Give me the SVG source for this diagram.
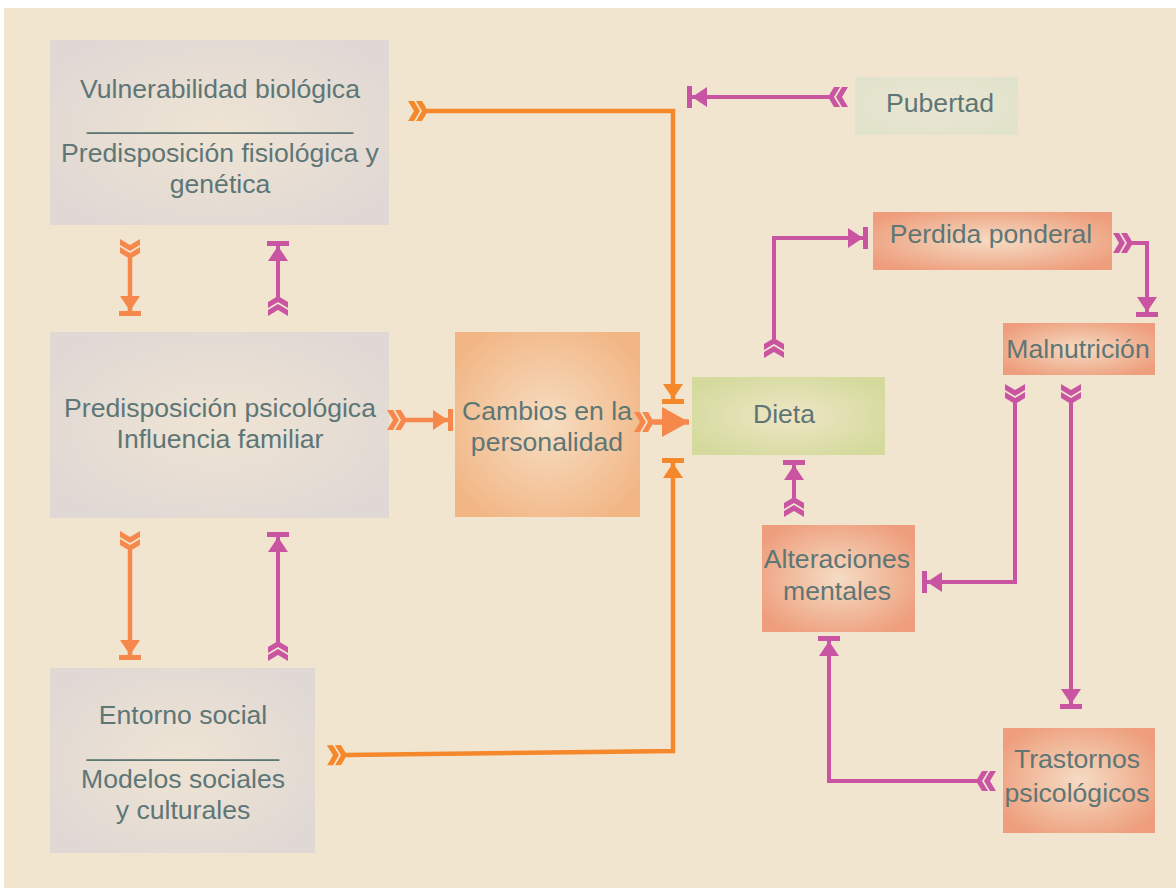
<svg xmlns="http://www.w3.org/2000/svg" width="1176" height="888" viewBox="0 0 1176 888">
<style>
text{font-family:"Liberation Sans",Arial,sans-serif;font-size:26.6px;fill:#5E7676;text-anchor:middle}
.lo{fill:none;stroke:#F4882A;stroke-width:4.5}
.lo2{fill:none;stroke:#F5884A;stroke-width:4.5}
.lp{fill:none;stroke:#C955A2;stroke-width:4}
</style>
<defs>
<radialGradient id="gGray" cx="50%" cy="50%" r="60%"><stop offset="0" stop-color="#EFE4D3"/><stop offset="1" stop-color="#E0D8D4"/></radialGradient>
<radialGradient id="gOrange" cx="50%" cy="50%" r="60%"><stop offset="0" stop-color="#F6DEC2"/><stop offset="1" stop-color="#F2B685"/></radialGradient>
<radialGradient id="gGreen" cx="50%" cy="50%" r="60%"><stop offset="0" stop-color="#EFE6C6"/><stop offset="1" stop-color="#D4DA9C"/></radialGradient>
<radialGradient id="gSalmon" cx="50%" cy="50%" r="60%"><stop offset="0" stop-color="#F5DCC4"/><stop offset="1" stop-color="#EE9E7C"/></radialGradient>
<radialGradient id="gPale" cx="50%" cy="50%" r="60%"><stop offset="0" stop-color="#EAE6D2"/><stop offset="1" stop-color="#E2E3CC"/></radialGradient>
<path id="chev2" d="M1,0 L-5,-10 L-11,-10 L-5,0 L-11,10 L-5,10 Z M-7,0 L-13,-10 L-19,-10 L-13,0 L-19,10 L-13,10 Z"/>
<marker id="tailO" markerUnits="userSpaceOnUse" orient="auto" refX="0" refY="0" markerWidth="30" markerHeight="30" overflow="visible">
<use href="#chev2" fill="#F4882A"/>
</marker>
<marker id="tailO2" markerUnits="userSpaceOnUse" orient="auto" refX="0" refY="0" markerWidth="30" markerHeight="30" overflow="visible">
<use href="#chev2" fill="#F5884A"/>
</marker>
<marker id="tailP" markerUnits="userSpaceOnUse" orient="auto" refX="0" refY="0" markerWidth="30" markerHeight="30" overflow="visible">
<use href="#chev2" fill="#C955A2"/>
</marker>
<path id="tbar" d="M-20,-10 L-5,0 L-20,10 Z M-5,-11 L0,-11 L0,11 L-5,11 Z"/>
<marker id="headO" markerUnits="userSpaceOnUse" orient="auto" refX="0" refY="0" markerWidth="30" markerHeight="30" overflow="visible">
<use href="#tbar" fill="#F4882A"/>
</marker>
<marker id="headO2" markerUnits="userSpaceOnUse" orient="auto" refX="0" refY="0" markerWidth="30" markerHeight="30" overflow="visible">
<use href="#tbar" fill="#F5884A"/>
</marker>
<marker id="headP" markerUnits="userSpaceOnUse" orient="auto" refX="0" refY="0" markerWidth="30" markerHeight="30" overflow="visible">
<use href="#tbar" fill="#C955A2"/>
</marker>
<marker id="bigO" markerUnits="userSpaceOnUse" orient="auto" refX="0" refY="0" markerWidth="40" markerHeight="40" overflow="visible">
<path fill="#F5884A" d="M-27,-15 L0,0 L-27,15 Z"/>
</marker>
</defs>
<rect x="4" y="8" width="1172" height="880" fill="#F2E5D0"/>

<g id="node-vulnerabilidad">
<rect x="50" y="40" width="339" height="185" fill="url(#gGray)"/>
<text x="220" y="98">Vulnerabilidad biológica</text>
<text x="220" y="129">__________________</text>
<text x="220" y="162">Predisposición fisiológica y</text>
<text x="220" y="193">genética</text>
</g>
<g id="node-predisposicion">
<rect x="50" y="332" width="339" height="186" fill="url(#gGray)"/>
<text x="220" y="417">Predisposición psicológica</text>
<text x="220" y="448">Influencia familiar</text>
</g>
<g id="node-entorno">
<rect x="50" y="668" width="265" height="185" fill="url(#gGray)"/>
<text x="183" y="724">Entorno social</text>
<text x="183" y="756">_____________</text>
<text x="183" y="788">Modelos sociales</text>
<text x="183" y="819">y culturales</text>
</g>
<g id="node-cambios">
<rect x="455" y="332" width="185" height="185" fill="url(#gOrange)"/>
<text x="547" y="420">Cambios en la</text>
<text x="547" y="451">personalidad</text>
</g>
<g id="node-dieta">
<rect x="692" y="377" width="193" height="78" fill="url(#gGreen)"/>
<text x="784" y="423">Dieta</text>
</g>
<g id="node-pubertad">
<rect x="855" y="77" width="163" height="58" fill="url(#gPale)"/>
<text x="940" y="112">Pubertad</text>
</g>
<g id="node-perdida">
<rect x="873" y="212" width="239" height="58" fill="url(#gSalmon)"/>
<text x="991" y="243">Perdida ponderal</text>
</g>
<g id="node-malnutricion">
<rect x="1003" y="323" width="152" height="52" fill="url(#gSalmon)"/>
<text x="1078" y="358">Malnutrición</text>
</g>
<g id="node-alteraciones">
<rect x="762" y="525" width="153" height="107" fill="url(#gSalmon)"/>
<text x="837" y="568">Alteraciones</text>
<text x="837" y="600">mentales</text>
</g>
<g id="node-trastornos">
<rect x="1003" y="728" width="152" height="105" fill="url(#gSalmon)"/>
<text x="1077" y="768">Trastornos</text>
<text x="1077" y="802">psicológicos</text>
</g>

<g id="connectors">
<path class="lo" d="M427,111 L673,111 L673,404" marker-start="url(#tailO)" marker-end="url(#headO)"/>
<path class="lo" d="M346,755 L673,751 L673,458" marker-start="url(#tailO)" marker-end="url(#headO)"/>
<path class="lo2" d="M406,420 L453,420" marker-start="url(#tailO2)" marker-end="url(#headO2)"/>
<path class="lo2" style="stroke-width:5.5" d="M653,422 L689,422" marker-start="url(#tailO2)" marker-end="url(#bigO)"/>
<path class="lo2" d="M130,258 L130,316" marker-start="url(#tailO2)" marker-end="url(#headO2)"/>
<path class="lo2" d="M130,550 L130,660" marker-start="url(#tailO2)" marker-end="url(#headO2)"/>
<path class="lp" d="M278,297 L278,241" marker-start="url(#tailP)" marker-end="url(#headP)"/>
<path class="lp" d="M278,642 L278,532" marker-start="url(#tailP)" marker-end="url(#headP)"/>
<path class="lp" d="M829,97 L687,97" marker-start="url(#tailP)" marker-end="url(#headP)"/>
<path class="lp" d="M774,339 L774,238 L868,238" marker-start="url(#tailP)" marker-end="url(#headP)"/>
<path class="lp" d="M1132,243 L1147,243 L1147,317" marker-start="url(#tailP)" marker-end="url(#headP)"/>
<path class="lp" d="M1015,403 L1015,582 L922,582" marker-start="url(#tailP)" marker-end="url(#headP)"/>
<path class="lp" d="M1071,403 L1071,709" marker-start="url(#tailP)" marker-end="url(#headP)"/>
<path class="lp" d="M977,781 L829,781 L829,636" marker-start="url(#tailP)" marker-end="url(#headP)"/>
<path class="lp" d="M794,498 L794,460" marker-start="url(#tailP)" marker-end="url(#headP)"/>
</g>
</svg>
